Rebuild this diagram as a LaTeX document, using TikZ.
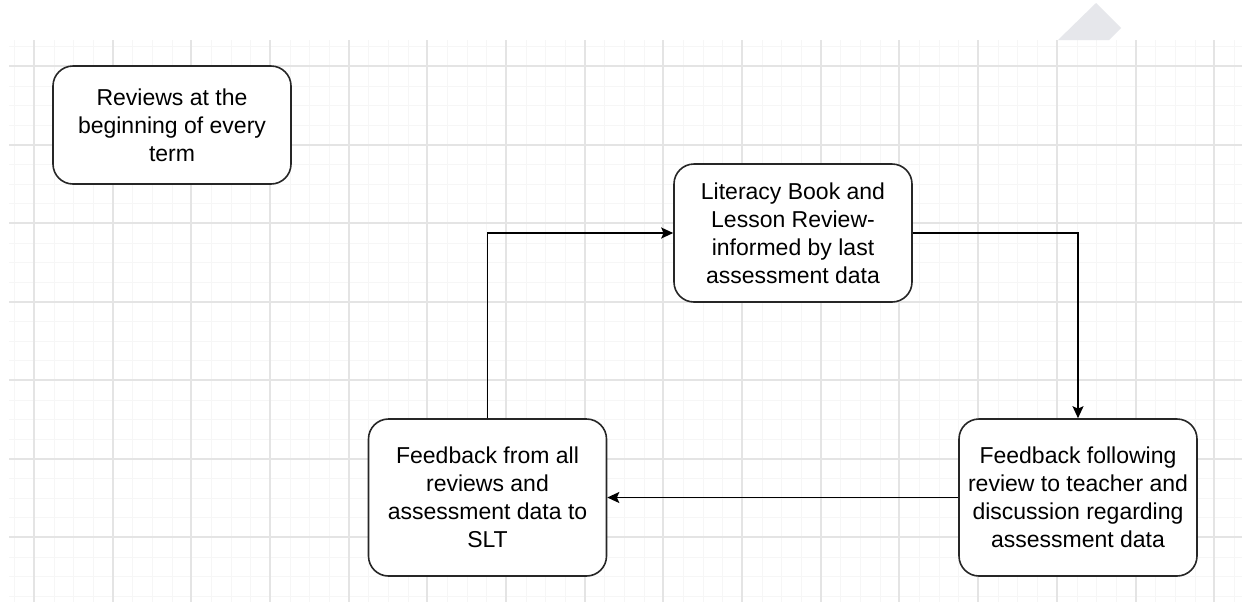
\documentclass[tikz,border=0pt]{standalone}
\usepackage{fontspec}
\setmainfont{Liberation Sans}
\usetikzlibrary{arrows.meta,positioning}
\definecolor{gridmajor}{HTML}{E4E4E4}
\definecolor{gridminor}{HTML}{F6F6F6}
\definecolor{tabgrey}{HTML}{E6E7EB}
\tikzset{
  stage/.style={rectangle, rounded corners=10pt, draw=black!85, line width=0.8pt,
    fill=white, align=center, inner sep=0pt, minimum width=119pt,
    font=\fontsize{11.5}{14}\selectfont},
  pass/.style={-{Stealth[length=6pt, width=5.5pt, inset=1.2pt]}, line width=0.8pt, draw=black},
  minorgrid/.style={draw=gridminor, line width=0.5pt},
  majorgrid/.style={draw=gridmajor, line width=0.9pt},
}
\begin{document}
\begin{tikzpicture}[x=0.5pt, y=-0.5pt]
  \useasboundingbox[fill=white] (0,0) rectangle (1242,602);
  % background grid
  \foreach \i in {-1,...,61}
    \draw[minorgrid] ({round(34+\i*19.67)},40) -- ({round(34+\i*19.67)},602);
  \foreach \j in {-1,...,27}
    \draw[minorgrid] (9,{round(66+\j*19.625)}) -- (1242,{round(66+\j*19.625)});
  \foreach \i in {0,...,15}
    \draw[majorgrid] ({round(34+\i*78.68)},40) -- ({round(34+\i*78.68)},602);
  \foreach \j in {0,...,6}
    \draw[majorgrid] (9,{round(66+\j*78.5)}) -- (1242,{round(66+\j*78.5)});
  \fill[tabgrey] (1058,40) -- (1096,3) -- (1121,28) -- (1109,40) -- cycle;
  % boxes
  \node[stage, minimum height=59pt] (term) at (172,125)
    {Reviews at the\\ beginning of every\\ term};
  \node[stage, minimum height=69pt] (review) at (793,233)
    {Literacy Book and\\ Lesson Review-\\ informed by last\\ assessment data};
  \node[stage, minimum height=78.5pt] (slt) at (487.5,497.5)
    {Feedback from all\\ reviews and\\ assessment data to\\ SLT};
  \node[stage, minimum height=78.5pt] (teacher) at (1078,497.5)
    {Feedback following\\ review to teacher and\\ discussion regarding\\ assessment data};
  % cycle
  \draw[pass] (review.east) -| (teacher.north);
  \draw[pass] (teacher.west) -- (slt.east);
  \draw[pass] (slt.north) |- (review.west);
\end{tikzpicture}
\end{document}
